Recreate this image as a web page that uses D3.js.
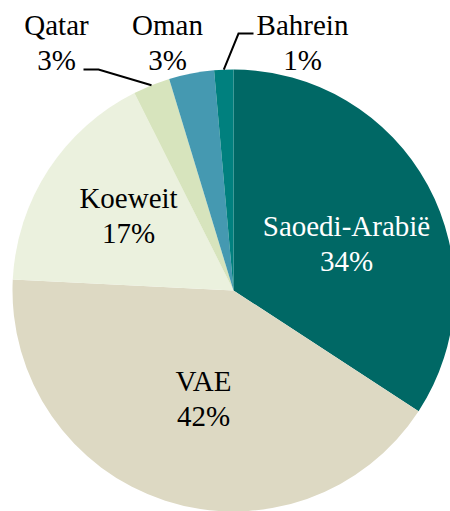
<!DOCTYPE html>
<html>
<head>
<meta charset="utf-8">
<script src="https://cdn.jsdelivr.net/npm/d3@7"></script>
</head>
<body style="margin:0">
<svg id="chart" width="450" height="511"></svg>
<script>
// slices, clockwise from 12 o'clock
const countries = ['Saoedi-Arabië', 'VAE', 'Koeweit', 'Qatar', 'Oman', 'Bahrein'];
const shares = [34.2, 41.6, 16.8, 2.7, 3.3, 1.4];
const pctLabels = ['34%', '42%', '17%', '3%', '3%', '1%'];
const colors = ['#006865', '#DDD9C3', '#EBF1DE', '#D7E4BD', '#4599B1', '#00807E'];

const cx = 233.5, cy = 290.5, radius = 221;

// label placement (relative to pie centre) and leader lines
const labelPos = [
  { x: 113, y: -55, fill: '#fff' },
  { x: -30, y: 100, fill: '#000' },
  { x: -105, y: -83, fill: '#000' },
  { x: -177, y: -256, fill: '#000', leader: { elbow: [-135, -221], end: [-150, -221] } },
  { x: -66, y: -256, fill: '#000' },
  { x: 69, y: -256, fill: '#000', leader: { elbow: [5, -257], end: [20, -257] } }
];

const svg = d3.select('#chart');

const pie = d3.pie().sort(null).value(d => d);
const arcs = pie(shares);
const arc = d3.arc().innerRadius(0).outerRadius(radius);

svg.append('g')
  .attr('transform', `translate(${cx},${cy})`)
  .selectAll('path')
  .data(arcs)
  .join('path')
  .attr('d', arc)
  .attr('fill', (d, i) => colors[i]);

// leader lines from the arc edge to the label
arcs.forEach((d, i) => {
  const lp = labelPos[i];
  if (!lp.leader) return;
  const mid = (d.startAngle + d.endAngle) / 2;
  const pts = [[radius * Math.sin(mid), -radius * Math.cos(mid)], lp.leader.elbow, lp.leader.end]
    .map(p => [cx + p[0], cy + p[1]]);
  svg.append('path')
    .attr('d', d3.line()(pts))
    .attr('fill', 'none')
    .attr('stroke', '#000')
    .attr('stroke-width', 2);
});

// two text lines per slice: name and percentage
const lines = [];
arcs.forEach((d, i) => {
  lines.push({ i, dy: 0, text: countries[i] });
  lines.push({ i, dy: 35, text: pctLabels[i] });
});

svg.selectAll('text')
  .data(lines)
  .join('text')
  .attr('x', d => cx + labelPos[d.i].x)
  .attr('y', d => cy + labelPos[d.i].y + d.dy)
  .attr('font-size', 29)
  .style('font-family', '"Liberation Serif"')
  .attr('text-anchor', 'middle')
  .attr('fill', d => labelPos[d.i].fill)
  .text(d => d.text);
</script>
</body>
</html>
